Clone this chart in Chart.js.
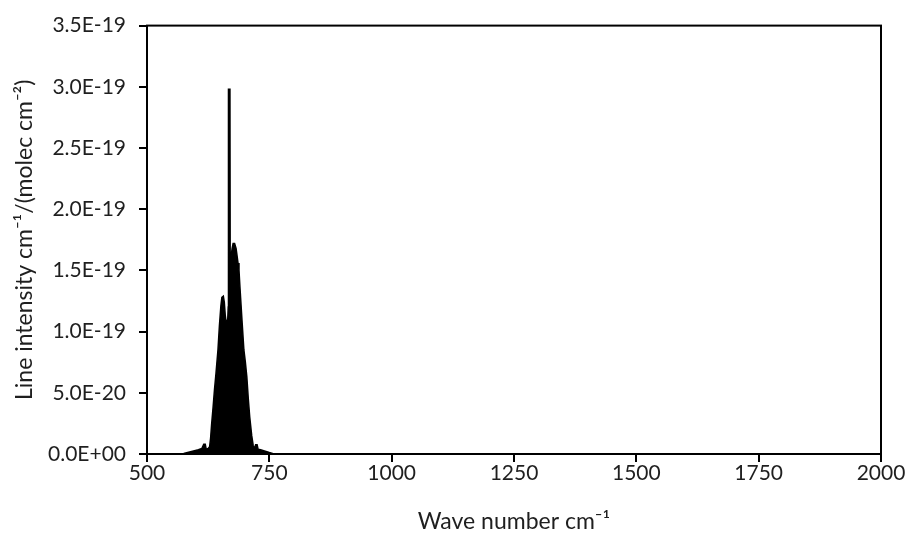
<!DOCTYPE html>
<html>
<head>
<meta charset="utf-8">
<script src="https://cdn.jsdelivr.net/npm/chart.js@4/dist/chart.umd.min.js"></script>
<style>
html,body{margin:0;padding:0;background:#fff;}
canvas{display:block;}
</style>
</head>
<body>
<canvas id="c" width="910" height="536"></canvas>
<script>
// Wave number (cm-1) and line intensity (cm-1/(molec cm-2))
const wavenumbers = [500, 560, 575, 585, 595, 605, 612, 616, 619, 621, 625, 628, 630, 632, 635, 638, 641, 645, 648, 651, 653, 656, 658, 660, 662, 665, 666, 666.5, 669.5, 670, 672, 674, 676, 679, 682, 684, 686, 688, 690, 694, 698, 701, 704, 707, 710, 714, 717, 719, 722, 725, 727, 732, 740, 750, 758, 765, 2000];
const intensities = [0, 0, 5e-22, 1.5e-21, 2.5e-21, 3.5e-21, 4.5e-21, 8e-21, 8e-21, 4e-21, 4.5e-21, 6e-21, 1.3e-20, 2.4e-20, 3.8e-20, 5.3e-20, 6.6e-20, 8.5e-20, 1.05e-19, 1.21e-19, 1.28e-19, 1.29e-19, 1.24e-19, 1.13e-19, 1.07e-19, 1.1e-19, 1.2e-19, 2.98e-19, 2.98e-19, 1.6e-19, 1.62e-19, 1.68e-19, 1.72e-19, 1.72e-19, 1.68e-19, 1.62e-19, 1.56e-19, 1.5e-19, 1.36e-19, 1.1e-19, 8.5e-20, 7.5e-20, 6.3e-20, 4.5e-20, 3e-20, 1.5e-20, 7e-21, 4e-21, 7.5e-21, 7.5e-21, 4e-21, 3.5e-21, 2.5e-21, 1.2e-21, 3e-22, 0, 0];
const xTickValues = [500, 750, 1000, 1250, 1500, 1750, 2000];
const yTickValues = [0, 5e-20, 1e-19, 1.5e-19, 2e-19, 2.5e-19, 3e-19, 3.5e-19];
const xTitle = 'Wave number cm\u207B\u00B9';
const yTitle = 'Line intensity cm\u207B\u00B9/(molec cm\u207B\u00B2)';

function fmtExp(v) {
  const s = v.toExponential(1);
  const parts = s.split('e');
  const sign = parts[1][0];
  const digits = parts[1].slice(1).padStart(2, '0');
  return parts[0] + 'E' + sign + digits;
}

const points = wavenumbers.map((w, i) => ({x: w, y: intensities[i]}));
const FONT = 'Lato';
const TXT = '#1f1f1f';

const frame = {
  id: 'frame',
  afterDraw(chart) {
    const a = chart.chartArea, ctx = chart.ctx;
    ctx.save();
    ctx.strokeStyle = '#000';
    ctx.lineWidth = 2;
    ctx.strokeRect(a.left, a.top, a.right - a.left, a.bottom - a.top);
    ctx.restore();
  }
};

new Chart(document.getElementById('c'), {
  type: 'scatter',
  data: {
    datasets: [{
      data: points,
      showLine: true,
      borderColor: '#000',
      backgroundColor: '#000',
      borderWidth: 1.5,
      fill: 'origin',
      pointRadius: 0,
      tension: 0
    }]
  },
  options: {
    responsive: false,
    devicePixelRatio: 1,
    animation: false,
    layout: {padding: {left: 0, right: 29, top: 24, bottom: 0}},
    plugins: {legend: {display: false}, tooltip: {enabled: false}},
    scales: {
      x: {
        type: 'linear',
        min: 500, max: 2000,
        afterBuildTicks: s => { s.ticks = xTickValues.map(v => ({value: v})); },
        afterFit: s => { s.height = 82; },
        ticks: {color: TXT, font: {family: FONT, size: 21}, padding: -1, maxRotation: 0, autoSkip: false,
                callback: v => String(v)},
        grid: {display: true, drawOnChartArea: false, drawTicks: true, tickLength: 8, color: '#000', lineWidth: 2},
        border: {display: true, color: '#000', width: 2},
        title: {display: true, text: xTitle, color: TXT, font: {family: FONT, size: 23}, padding: {top: 0, bottom: 1}}
      },
      y: {
        type: 'linear',
        min: 0, max: 3.5e-19,
        afterBuildTicks: s => { s.ticks = yTickValues.map(v => ({value: v})); },
        afterFit: s => { s.width = 147; },
        ticks: {color: TXT, font: {family: FONT, size: 21}, padding: 13, autoSkip: false,
                callback: v => fmtExp(v)},
        grid: {display: true, drawOnChartArea: false, drawTicks: true, tickLength: 8, color: '#000', lineWidth: 2},
        border: {display: true, color: '#000', width: 2},
        title: {display: true, text: yTitle, color: TXT, font: {family: FONT, size: 23}, padding: {top: 11, bottom: 0}}
      }
    }
  },
  plugins: [frame]
});
</script>
</body>
</html>
